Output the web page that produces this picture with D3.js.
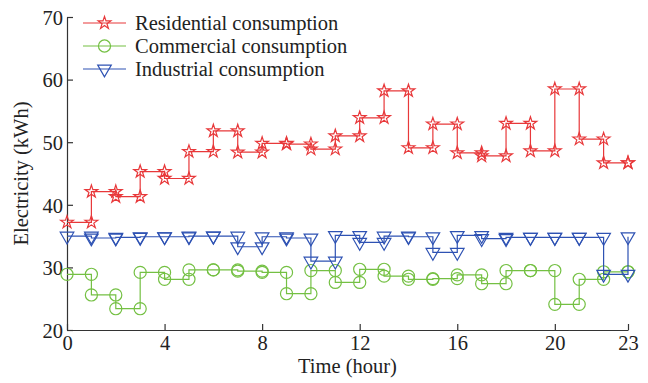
<!DOCTYPE html>
<html>
<head>
<meta charset="utf-8">
<script src="https://cdn.jsdelivr.net/npm/d3@7"></script>
<style>
  body { margin: 0; background: #fff; }
  text { font-family: "Liberation Serif", "Times New Roman", serif; fill: #222; }
</style>
</head>
<body>
<div class="chart"></div>
<script>
// hourly values, one per hour 0..23 (drawn as stairs)
var hours = d3.range(0, 24);
var residential = [37.2, 42.1, 41.3, 45.3, 44.2, 48.5, 51.8, 48.4, 49.8, 49.7, 48.9, 51.0,
                   53.9, 58.2, 49.1, 52.9, 48.3, 47.8, 53.0, 48.6, 58.5, 50.5, 46.7, 46.7];
var commercial  = [28.9, 25.6, 23.4, 29.2, 28.1, 29.6, 29.6, 29.4, 29.2, 25.8, 29.5, 27.6,
                   29.7, 28.6, 28.1, 28.2, 28.8, 27.4, 29.5, 29.5, 24.1, 28.1, 29.3, 29.3];
var industrial  = [35.0, 34.7, 34.8, 34.9, 34.9, 35.0, 35.0, 33.3, 34.9, 34.7, 31.0, 35.1,
                   34.0, 35.0, 34.9, 32.4, 35.1, 34.6, 34.8, 34.8, 34.8, 34.8, 28.9, 34.9];
var xTicks = [0, 4, 8, 12, 16, 20, 23];
var yTicks = [20, 30, 40, 50, 60, 70];
var seriesNames = ["Residential consumption", "Commercial consumption", "Industrial consumption"];
var seriesColors = ["#e8383a", "#74c043", "#2e52b3"];
var seriesShapes = ["star", "circle", "triangle"];
var seriesValues = [residential, commercial, industrial];

var margin = {top: 17, right: 20, bottom: 53, left: 67},
    width = 648 - margin.left - margin.right,
    height = 383 - margin.top - margin.bottom;

var svg = d3.select(".chart")
  .append("svg")
    .attr("width", width + margin.left + margin.right)
    .attr("height", height + margin.top + margin.bottom)
  .append("g")
    .attr("transform", "translate(" + margin.left + "," + margin.top + ")");

var x = d3.scaleLinear().domain([0, 23]).range([0, width]);
var y = d3.scaleLinear().domain([20, 70]).range([height, 0]);

// stairs vertices like matlab stairs()
function stairs(vals) {
  var pts = [];
  vals.forEach(function(v, i) {
    pts.push([hours[i], v]);
    if (i < vals.length - 1) pts.push([hours[i + 1], v]);
  });
  return pts;
}

var symbols = {
  star: d3.symbol().type(d3.symbolStar).size(50),
  circle: d3.symbol().type(d3.symbolCircle).size(115),
  triangle: d3.symbol().type(d3.symbolTriangle).size(80)
};

function marker(sel, shape, color) {
  sel.append("path")
    .attr("d", symbols[shape]())
    .attr("transform", shape == "triangle" ? "rotate(180)" : null)
    .attr("fill", "none")
    .attr("stroke", color)
    .attr("stroke-width", 1.2);
}

var line = d3.line()
  .x(function(d) { return x(d[0]); })
  .y(function(d) { return y(d[1]); });

// axes (ticks pointing inward)
var xaxis = d3.axisBottom(x).tickValues(xTicks).tickSizeInner(-6).tickSizeOuter(0).tickPadding(5);
var yaxis = d3.axisLeft(y).tickValues(yTicks).tickSizeInner(-6).tickSizeOuter(0).tickPadding(4);

var gx = svg.append("g")
  .attr("transform", "translate(0," + height + ")")
  .call(xaxis);
var gy = svg.append("g").call(yaxis);

[gx, gy].forEach(function(g) {
  g.selectAll("path, line").attr("stroke", "#333").attr("stroke-width", 1.2);
  g.selectAll("text")
    .attr("font-family", "Liberation Serif")
    .attr("font-size", "20.5px")
    .attr("fill", "#222");
});
gy.selectAll("text").attr("dy", "0.36em");

seriesValues.forEach(function(vals, k) {
  var pts = stairs(vals);
  svg.append("path")
    .datum(pts)
    .attr("fill", "none")
    .attr("stroke", seriesColors[k])
    .attr("stroke-width", 1.2)
    .attr("d", line);

  svg.append("g")
    .selectAll("g")
    .data(pts)
    .enter()
    .append("g")
      .attr("transform", function(d) { return "translate(" + x(d[0]) + "," + y(d[1]) + ")"; })
      .each(function() { marker(d3.select(this), seriesShapes[k], seriesColors[k]); });
});

// legend
var legend = svg.append("g").attr("transform", "translate(16,6)");
seriesNames.forEach(function(name, k) {
  var row = legend.append("g").attr("transform", "translate(0," + (k * 23) + ")");
  row.append("line")
    .attr("x1", 0).attr("x2", 43)
    .attr("stroke", seriesColors[k])
    .attr("stroke-width", 1.2);
  row.append("g")
    .attr("transform", "translate(21.5,0)")
    .each(function() { marker(d3.select(this), seriesShapes[k], seriesColors[k]); });
  row.append("text")
    .attr("x", 52)
    .attr("dy", "0.35em")
    .attr("font-size", "20.5px")
    .text(name);
});

// axis titles
svg.append("text")
  .attr("x", width / 2)
  .attr("y", height + 43)
  .attr("text-anchor", "middle")
  .attr("font-size", "20.5px")
  .text("Time (hour)");

svg.append("text")
  .attr("transform", "translate(-39," + (height / 2) + ") rotate(-90)")
  .attr("text-anchor", "middle")
  .attr("font-size", "20.5px")
  .text("Electricity (kWh)");
</script>
</body>
</html>
